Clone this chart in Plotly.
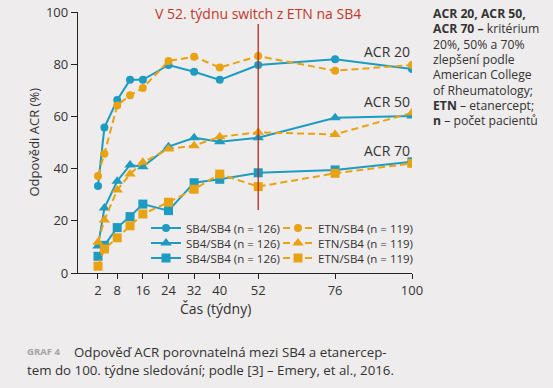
import plotly.graph_objects as go

# ---- data ----
weeks = [2, 4, 8, 12, 16, 24, 32, 40, 52, 76, 100]
sb4_acr20 = [33.3, 55.7, 66.3, 74.0, 74.0, 79.7, 77.1, 74.0, 79.7, 81.9, 78.2]
etn_acr20 = [37.2, 45.7, 64.2, 68.1, 70.9, 81.2, 82.9, 78.7, 83.1, 77.5, 79.7]
sb4_acr50 = [10.3, 24.9, 35.2, 41.4, 40.7, 48.4, 51.8, 50.3, 51.8, 59.5, 60.2]
etn_acr50 = [11.8, 20.3, 31.8, 37.9, 42.4, 47.5, 48.8, 52.2, 53.9, 53.1, 61.4]
sb4_acr70 = [6.4, 10.6, 17.4, 21.6, 26.4, 23.9, 34.6, 35.9, 38.4, 39.5, 42.6]
etn_acr70 = [2.6, 9.2, 13.5, 18.1, 22.6, 27.1, 32.1, 37.9, 33.1, 38.2, 42.0]

x_ticks = [2, 8, 16, 24, 32, 40, 52, 76, 100]
y_ticks = [0, 20, 40, 60, 80, 100]
switch_week = 52
switch_line_span = [24.1, 95.4]
acr_labels = ["ACR 20", "ACR 50", "ACR 70"]
acr_label_y = [84.7, 65.9, 47.1]
sb4_name = "SB4/SB4 (n = 126)"
etn_name = "ETN/SB4 (n = 119)"
note_lines = [
    "<b>ACR 20, ACR 50,</b>",
    "<b>ACR 70 –</b> kritérium",
    "20%, 50% a 70%",
    "zlepšení podle",
    "American College",
    "of Rheumatology;",
    "<b>ETN</b> – etanercept;",
    "<b>n</b> – počet pacientů",
]

# ---- style ----
TEAL = "#1d9bc0"
ORANGE = "#e9a312"
RED = "#b8281e"
BG = "#eeecec"
TXT = "#333333"
FONT = "Open Sans"

# plot area in pixels
W, H = 553, 388
L, R, T, B = 78, 412, 12, 273


def px_x(p):
    return (p - L) / (R - L)


def px_y(p):
    return (B - p) / (B - T)


fig = go.Figure()

series = [
    (sb4_acr20, TEAL, "solid", "circle", 8, sb4_name, "legend"),
    (sb4_acr50, TEAL, "solid", "triangle-up", 10, sb4_name, "legend2"),
    (sb4_acr70, TEAL, "solid", "square", 9, sb4_name, "legend3"),
    (etn_acr20, ORANGE, "7px,4px", "circle", 8, etn_name, "legend4"),
    (etn_acr50, ORANGE, "7px,4px", "triangle-up", 10, etn_name, "legend5"),
    (etn_acr70, ORANGE, "7px,4px", "square", 9, etn_name, "legend6"),
]
for vals, col, dash, sym, size, name, leg in series:
    fig.add_trace(go.Scatter(
        x=weeks, y=vals, mode="lines+markers", name=name, legend=leg,
        line=dict(color=col, width=2, dash=dash),
        marker=dict(color=col, symbol=sym, size=size, line=dict(width=0)),
    ))

# legends positioned individually (two columns of three rows)
row_y = [228, 243, 258]
col_x = [146, 278]
legends = {}
names = ["legend", "legend2", "legend3", "legend4", "legend5", "legend6"]
for i, nm in enumerate(names):
    c, r = divmod(i, 3)
    legends[nm] = dict(
        x=px_x(col_x[c]), y=px_y(row_y[r]), xanchor="left", yanchor="middle",
        bgcolor="rgba(0,0,0,0)", borderwidth=0,
        font=dict(family=FONT, size=11.5, color=TXT),
        itemwidth=30,
    )

# vertical switch line
fig.add_shape(type="line", xref="x", yref="y", x0=switch_week, x1=switch_week,
              y0=switch_line_span[0], y1=switch_line_span[1],
              line=dict(color=RED, width=1.3))

note_text = "<br>".join('<span style="font-size:12.2px">' + s + "</span>" for s in note_lines)

annotations = [
    dict(text="V 52. týdnu switch z ETN na SB4", x=switch_week, y=99.6, xref="x", yref="y",
         xanchor="center", yanchor="middle", showarrow=False,
         font=dict(family=FONT, size=14, color="#c0392b")),
    dict(text="Odpovědi ACR (%)", x=px_x(33), y=0.5, xref="paper", yref="paper",
         textangle=-90, xanchor="center", yanchor="middle", showarrow=False,
         font=dict(family=FONT, size=13, color=TXT)),
    dict(text="Čas (týdny)", x=px_x(215), y=px_y(308), xref="paper", yref="paper",
         xanchor="center", yanchor="middle", showarrow=False,
         font=dict(family=FONT, size=14, color=TXT)),
    dict(text="<b>GRAF 4</b>", x=px_x(25), y=px_y(352), xref="paper", yref="paper",
         xanchor="left", yanchor="middle", showarrow=False,
         font=dict(family=FONT, size=9.5, color="#a5a3a3")),
    dict(text="Odpověď ACR porovnatelná mezi SB4 a etanercep-", x=px_x(72), y=px_y(352),
         xref="paper", yref="paper", xanchor="left", yanchor="middle", showarrow=False,
         font=dict(family=FONT, size=13.3, color=TXT)),
    dict(text="tem do 100. týdne sledování; podle [3] – Emery, et al., 2016.", x=px_x(25),
         y=px_y(370), xref="paper", yref="paper", xanchor="left", yanchor="middle",
         showarrow=False, font=dict(family=FONT, size=13.3, color=TXT)),
    dict(text=note_text, x=px_x(431), y=px_y(67), xref="paper", yref="paper",
         xanchor="left", yanchor="middle", align="left", showarrow=False,
         font=dict(family=FONT, size=11.8, color=TXT)),
]
for lab, yv in zip(acr_labels, acr_label_y):
    annotations.append(dict(text=lab, x=100, y=yv, xref="x", yref="y", xanchor="right",
                            yanchor="middle", showarrow=False,
                            font=dict(family=FONT, size=14, color=TXT)))

fig.update_layout(
    width=W, height=H,
    margin=dict(l=L, r=W - R, t=T, b=H - B, pad=0, autoexpand=False),
    paper_bgcolor=BG, plot_bgcolor=BG,
    showlegend=True,
    annotations=annotations,
    font=dict(family=FONT, color=TXT),
    **legends,
)
fig.update_xaxes(
    range=[-4.24, 100], tickmode="array", tickvals=x_ticks,
    ticks="outside", ticklen=5, tickwidth=1.3, tickcolor="#222",
    showline=True, linecolor="#222", linewidth=1.3, showgrid=False, zeroline=False,
    tickfont=dict(family=FONT, size=13, color=TXT),
)
fig.update_yaxes(
    range=[0, 100], tickmode="array", tickvals=y_ticks,
    ticks="outside", ticklen=6, tickwidth=1.3, tickcolor="#222",
    showline=True, linecolor="#222", linewidth=1.3, showgrid=False, zeroline=False,
    tickfont=dict(family=FONT, size=13, color=TXT),
)

fig.write_html("out.html", config={"displayModeBar": False},
               post_script="document.body.style.margin='0';")
